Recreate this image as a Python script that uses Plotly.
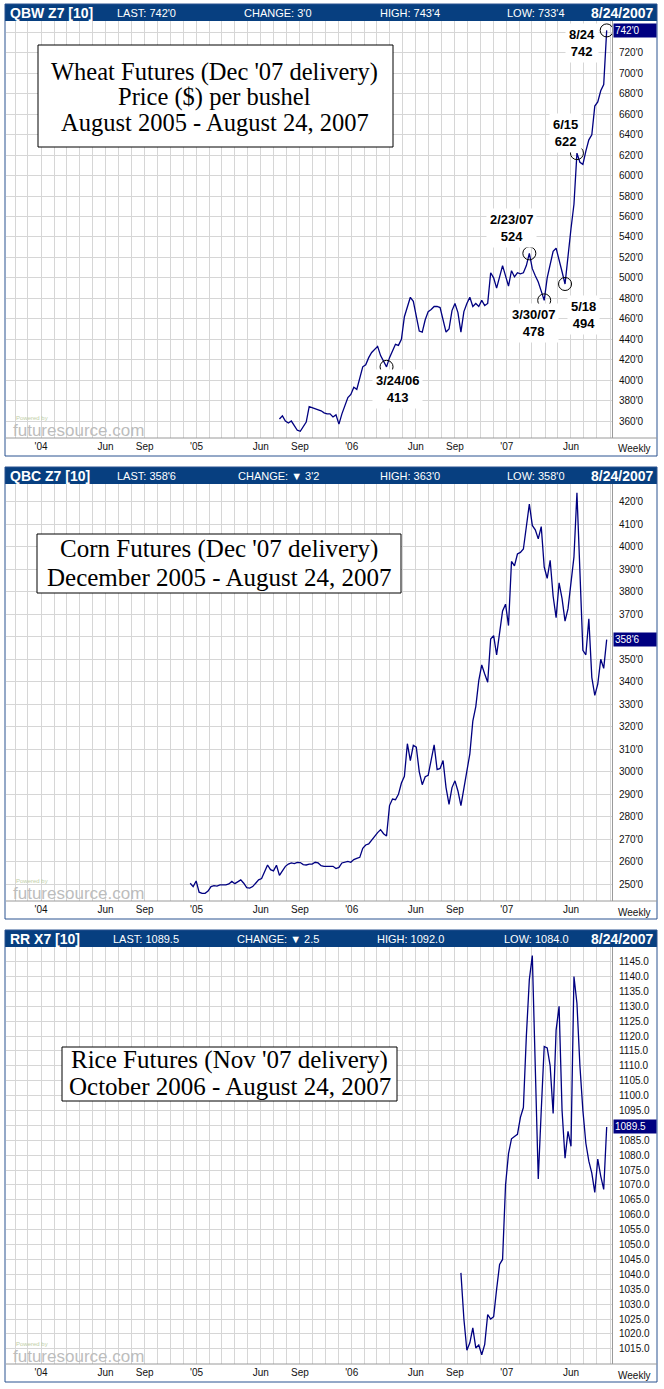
import plotly.graph_objects as go
import pandas as pd

W, H = 664, 1389

# ---------------- data (weekly closes) ----------------
wheat_vals = [362, 365, 360, 358, 360, 355, 351, 350, 355, 359,
              374, 373, 372, 371, 370, 368, 367, 367, 364, 366,
              357, 367, 376, 383, 386, 393, 391, 403, 413, 415,
              422, 427, 430, 433, 424, 418, 413, 422, 429, 435,
              434, 440, 462, 471, 481, 477, 463, 448, 447, 459,
              467, 469, 472, 472, 471, 460, 447, 450, 468, 475,
              466, 447, 467, 475, 481, 472, 475, 472, 478, 473,
              475, 505, 500, 490, 502, 512, 502, 492, 507, 501,
              505, 504, 505, 512, 524, 509, 502, 496, 487, 478,
              500, 514, 526, 529, 516, 506, 494, 524, 548, 572,
              622, 613, 611, 624, 635, 640, 668, 672, 683, 689,
              742]
corn_vals = [250.5, 249, 251.5, 246.5, 246, 246, 247, 249, 249.4, 249.2,
             249.8, 249.8, 249.8, 250.2, 251.3, 250.3, 251, 252, 250.5, 248.5,
             248.3, 249, 250.5, 252, 252.6, 256, 258.6, 256.5, 256, 258.5,
             254, 256, 258, 259, 259.5, 259.2, 259.8, 259.7, 258.8, 258.6,
             259, 259, 259.8, 259.5, 258.3, 258, 258, 258, 258, 257,
             257.5, 259.5, 259.8, 260.2, 259.8, 261, 261.5, 262, 266, 267.5,
             268, 269.8, 271.6, 273, 274.3, 272.5, 271.5, 285, 287.9, 287.6,
             290, 295, 298, 312.5, 305, 311.8, 311, 300, 294.3, 297.8,
             298.5, 305, 312, 301, 301.5, 305, 293, 285.5, 293, 296,
             291.5, 285, 293, 302, 308, 322.5, 329, 340.5, 347.5, 343.5,
             339.8, 359, 360.5, 352, 361.5, 371.5, 374.5, 365, 393.5, 391.5,
             396.8, 397.5, 399, 409, 419, 409.5, 407.5, 403.5, 409, 391,
             386, 394, 378, 368.5, 384, 377, 367, 372.5, 383.5, 395.5,
             424, 388, 354, 352, 368, 342, 334, 339, 350, 346,
             358.75]
rice_vals = [1040.5, 1025, 1014.5, 1017, 1022, 1015.3, 1016.3, 1013, 1016.5, 1026.5,
             1025, 1025.8, 1035, 1043.3, 1045, 1070, 1080.5, 1085.5, 1086.3, 1087,
             1092.7, 1096, 1120, 1139, 1147, 1112, 1072, 1095, 1116.5, 1116,
             1110, 1094, 1122, 1130, 1095, 1079, 1088, 1083, 1140, 1131,
             1110, 1095, 1084, 1078, 1074, 1067.5, 1078.7, 1073, 1068.5, 1089.5]

LAST_DATE = "2007-08-24"
wheat_dates = pd.date_range(end=LAST_DATE, periods=len(wheat_vals), freq="7D")
corn_dates = pd.date_range(end=LAST_DATE, periods=len(corn_vals), freq="7D")
rice_dates = pd.date_range(end=LAST_DATE, periods=len(rice_vals), freq="7D")

x_tick_dates = ["2004-01-01", "2004-06-01", "2004-09-01", "2005-01-01", "2005-06-01",
                "2005-09-01", "2006-01-01", "2006-06-01", "2006-09-01", "2007-01-01",
                "2007-06-01"]
x_tick_text = ["'04", "Jun", "Sep", "'05", "Jun", "Sep", "'06", "Jun", "Sep", "'07", "Jun"]

wheat_ticks = list(range(360, 741, 20))
wheat_tick_text = [f"{v}'0" if v != 740 else "" for v in wheat_ticks]
corn_ticks = list(range(250, 421, 10))
corn_tick_text = [f"{v}'0" if v != 360 else "" for v in corn_ticks]
rice_ticks = [1015 + 5 * k for k in range(27)]
rice_tick_text = [f"{v:.1f}" if v != 1090 else "" for v in rice_ticks]

wheat_marks = [("2006-03-24", "3/24/06<br>413", 11, -22),
               ("2007-02-23", "2/23/07<br>524", -18, 25),
               ("2007-03-30", "3/30/07<br>478", -11, -23),
               ("2007-05-18", "5/18<br>494", 18, -31),
               ("2007-06-15", "6/15<br>622", -11, 20),
               ("2007-08-24", "8/24<br>742", -25, -13)]

headers = [
    ["QBW Z7 [10]", "LAST: 742'0", "CHANGE: 3'0", "HIGH: 743'4", "LOW: 733'4", "8/24/2007"],
    ["QBC Z7 [10]", "LAST: 358'6", "CHANGE: \u25BC 3'2", "HIGH: 363'0", "LOW: 358'0", "8/24/2007"],
    ["RR X7 [10]", "LAST: 1089.5", "CHANGE: \u25BC 2.5", "HIGH: 1092.0", "LOW: 1084.0", "8/24/2007"],
]
last_labels = ["742'0", "358'6", "1089.5"]
titles = [
    ["Wheat Futures (Dec '07 delivery)", "Price ($) per bushel", "August 2005 - August 24, 2007"],
    ["Corn Futures (Dec '07 delivery)", "December 2005 - August 24, 2007"],
    ["Rice Futures (Nov '07 delivery)", "October 2006 - August 24, 2007"],
]

# ---------------- layout helpers ----------------
def px(x):
    return x / W

def py(y):
    return 1 - y / H

NAVY = "#000080"
HEAD = "#073F80"
GRID = "#D6D6D6"
AXIS = "#9A9A9A"
NARROW = "Liberation Sans Narrow, Arial Narrow, Liberation Sans, sans-serif"
SANS = "Liberation Sans, Arial, sans-serif"
SERIF = "Liberation Serif, Times New Roman, serif"

TOPS = [4, 467, 930]
PLOT_L, PLOT_R = 6, 612
PANEL_L, PANEL_R = 5, 657
X_RANGE = ["2003-10-10 14:00", "2007-09-05 12:00"]
Y_RANGES = [[343.4, 751.2], [242.6, 427.9], [1009.9, 1149.9]]

fig = go.Figure()
series = [(wheat_dates, wheat_vals), (corn_dates, corn_vals), (rice_dates, rice_vals)]
yticks = [(wheat_ticks, wheat_tick_text), (corn_ticks, corn_tick_text), (rice_ticks, rice_tick_text)]

shapes = []
annotations = []
layout_axes = {}

for k in range(3):
    T = TOPS[k]
    xa = "x" if k == 0 else f"x{k+1}"
    ya = "y" if k == 0 else f"y{k+1}"
    xname = "xaxis" if k == 0 else f"xaxis{k+1}"
    yname = "yaxis" if k == 0 else f"yaxis{k+1}"
    d, v = series[k]
    fig.add_trace(go.Scatter(x=d, y=v, mode="lines", xaxis=xa, yaxis=ya,
                             line=dict(color=NAVY, width=1.3), hoverinfo="skip",
                             showlegend=False))
    layout_axes[xname] = dict(
        domain=[px(PLOT_L), px(PLOT_R)], anchor=ya, type="date", range=X_RANGE,
        tickvals=x_tick_dates, ticktext=x_tick_text, ticks="", showline=False,
        zeroline=False, showgrid=True, gridcolor=GRID, gridwidth=1,
        minor=dict(dtick="M1", tick0="2004-01-01", showgrid=True, gridcolor=GRID, gridwidth=1),
        tickfont=dict(family=SANS, size=10, color="#111111"), ticklabelstandoff=1,
        fixedrange=True)
    tv, tt = yticks[k]
    layout_axes[yname] = dict(
        domain=[py(T + 434), py(T + 17)], anchor=xa, side="right", range=Y_RANGES[k],
        tickvals=tv, ticktext=tt, ticks="", showline=True, linecolor=AXIS, linewidth=1,
        zeroline=False, showgrid=True, gridcolor=GRID, gridwidth=1,
        tickfont=dict(family=SANS, size=10, color="#111111"), ticklabelstandoff=4,
        fixedrange=True)

    # header bar and panel frame
    shapes.append(dict(type="rect", xref="paper", yref="paper", x0=px(PANEL_L), x1=px(PANEL_R),
                       y0=py(T + 17), y1=py(T), fillcolor=HEAD, line=dict(width=0), layer="above"))
    shapes.append(dict(type="rect", xref="paper", yref="paper", x0=px(PANEL_L), x1=px(PANEL_R),
                       y0=py(T + 452), y1=py(T), fillcolor="rgba(0,0,0,0)",
                       line=dict(color="#2A5290", width=1), layer="above"))
    shapes.append(dict(type="line", xref="paper", yref="paper", x0=px(PLOT_L), x1=px(PANEL_R),
                       y0=py(T + 434), y1=py(T + 434), line=dict(color=AXIS, width=1), layer="above"))

    h = headers[k]
    hy = py(T + 9)
    annotations.append(dict(xref="paper", yref="paper", x=px(8), y=hy, xanchor="left", yanchor="middle",
                            text=f"<b>{h[0]}</b>", showarrow=False,
                            font=dict(family=NARROW, size=14, color="white")))
    for txt, cx in zip(h[1:5], [146, 278, 410, 536]):
        annotations.append(dict(xref="paper", yref="paper", x=px(cx), y=hy, xanchor="center",
                                yanchor="middle", text=txt, showarrow=False,
                                font=dict(family=NARROW, size=11, color="white")))
    annotations.append(dict(xref="paper", yref="paper", x=px(655), y=hy, xanchor="right",
                            yanchor="middle", text=f"<b>{h[5]}</b>", showarrow=False,
                            font=dict(family=NARROW, size=14, color="white")))

    # "Weekly" in axis corner
    annotations.append(dict(xref="paper", yref="paper", x=px(616), y=py(T + 445), xanchor="left",
                            yanchor="middle", text="Weekly", showarrow=False,
                            font=dict(family=SANS, size=10, color="#111111")))
    # last value box
    annotations.append(dict(xref="paper", yref=ya, x=px(613), y=v[-1], xanchor="left",
                            yanchor="middle", text=last_labels[k], showarrow=False,
                            bgcolor=NAVY, width=40, height=11, align="left", borderpad=1,
                            font=dict(family=SANS, size=10, color="white")))
    # watermark
    annotations.append(dict(xref="paper", yref="paper", x=px(14), y=py(T + 414), xanchor="left",
                            yanchor="middle", text="Powered by", showarrow=False,
                            font=dict(family=SANS, size=6, color="#BFCFA8")))
    annotations.append(dict(xref="paper", yref="paper", x=px(11), y=py(T + 426), xanchor="left",
                            yanchor="middle", text="futuresource.com", showarrow=False,
                            font=dict(family=SANS, size=17, color="#BDBDBD")))

# wheat circles and labels
mark_dates = [pd.Timestamp(m[0]) for m in wheat_marks]
mark_vals = [wheat_vals[list(wheat_dates).index(md)] for md in mark_dates]
fig.add_trace(go.Scatter(x=mark_dates, y=mark_vals, mode="markers", xaxis="x", yaxis="y",
                         marker=dict(symbol="circle-open", size=13, color="black",
                                     line=dict(width=1, color="black")),
                         hoverinfo="skip", showlegend=False))
for (ds, lab, dx, dy), mv in zip(wheat_marks, mark_vals):
    annotations.append(dict(xref="x", yref="y", x=ds, y=mv, text=f"<b>{lab}</b>", showarrow=False,
                            xshift=dx, yshift=dy, bgcolor="white", borderpad=3,
                            font=dict(family=NARROW, size=13, color="black")))

# title boxes: (left, top, right, bottom, text centre x, line centre ys, font size)
boxes = [(38, 45, 393, 147, 215, [72, 97, 122], 24.5),
         (37, 534, 401, 593, 219, [549, 577], 25),
         (62, 1047, 397, 1101, 230, [1060, 1086], 25)]
for (x0, y0, x1, y1, cx, lys, fs), lines in zip(boxes, titles):
    shapes.append(dict(type="rect", xref="paper", yref="paper", x0=px(x0), x1=px(x1),
                       y0=py(y1), y1=py(y0), fillcolor="white",
                       line=dict(color="black", width=1), layer="above"))
    for ly, txt in zip(lys, lines):
        annotations.append(dict(xref="paper", yref="paper", x=px(cx), y=py(ly), xanchor="center",
                                yanchor="middle", text=txt, showarrow=False,
                                font=dict(family=SERIF, size=fs, color="black")))

fig.update_layout(width=W, height=H, margin=dict(l=0, r=0, t=0, b=0),
                  paper_bgcolor="white", plot_bgcolor="white",
                  shapes=shapes, annotations=annotations, **layout_axes)

fig.write_html("out.html")
